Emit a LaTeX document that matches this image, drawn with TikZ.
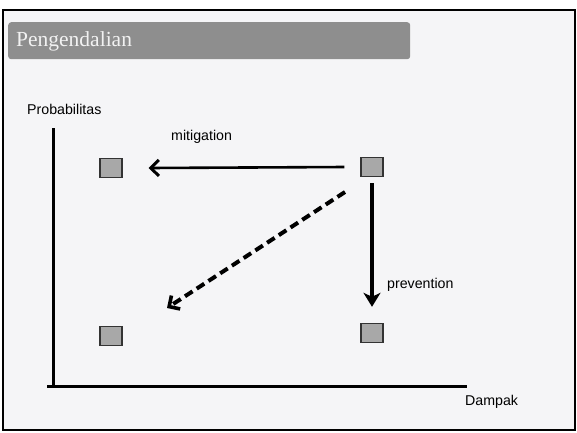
\documentclass[tikz,border=0pt]{standalone}
\usepackage{fontspec}
\setmainfont{Liberation Sans}
\newfontfamily\titlefont{Liberation Serif}
\usetikzlibrary{arrows.meta}
\definecolor{pagebg}{HTML}{F5F5F7}
\definecolor{barfill}{HTML}{8E8E8E}
\definecolor{cellfill}{HTML}{A8A8A8}
\begin{document}
\begin{tikzpicture}[x=1pt,y=-1pt,
  cell/.style={draw=black!80,fill=cellfill,line width=1.4pt,minimum width=22pt,minimum height=19pt,inner sep=0pt},
  lbl/.style={font=\fontsize{14.2}{16}\selectfont,inner sep=0pt,anchor=west},
  axis/.style={line width=3pt,line cap=butt}]
  \useasboundingbox (0,0) rectangle (577,432);
  \fill[white] (0,0) rectangle (577,432);
  % slide frame
  \draw[fill=pagebg,line width=1.6pt] (3,10) rectangle (575,430);
  % title bar
  \node[fill=barfill,rounded corners=3pt,minimum width=402pt,minimum height=37pt,anchor=north west,inner sep=0pt] (bar) at (8,22) {};
  \node[font=\titlefont\fontsize{21.5}{24}\selectfont,text=white!90!gray,anchor=west,inner sep=0pt] (title) at (16,41) {Pengendalian};
  % axes
  \coordinate (ytop) at (53,128);
  \coordinate (xend) at (467,386);
  \draw[axis] (ytop) -- (53,387.5) (47,386) -- (xend);
  \node[lbl] (prob) at (27,109) {Probabilitas};
  \node[lbl] (damp) at (465,402) {Dampak};
  % risk cells
  \node[cell] (tl) at (111,168) {};
  \node[cell] (tr) at (372,167) {};
  \node[cell] (bl) at (111,336) {};
  \node[cell] (br) at (372,333) {};
  % treatments
  \draw[line width=2.6pt,-{Straight Barb[length=8pt,width=16pt,line width=3pt]}] ([xshift=-16pt]tr.west) -- ([xshift=26pt]tl.east);
  \node[lbl] (mit) at (171,137) {mitigation};
  \draw[line width=4.5pt,-{Stealth[length=14pt,width=17pt,inset=4pt]}] ([yshift=-6pt]tr.south) -- ([yshift=16pt]br.north);
  \node[lbl] (prev) at (387,285) {prevention};
  \draw[line width=4pt,dash pattern=on 9pt off 5pt,-{Straight Barb[length=8pt,width=16pt,line width=3.6pt]}] (345,192) -- (167,308);
\end{tikzpicture}
\end{document}
